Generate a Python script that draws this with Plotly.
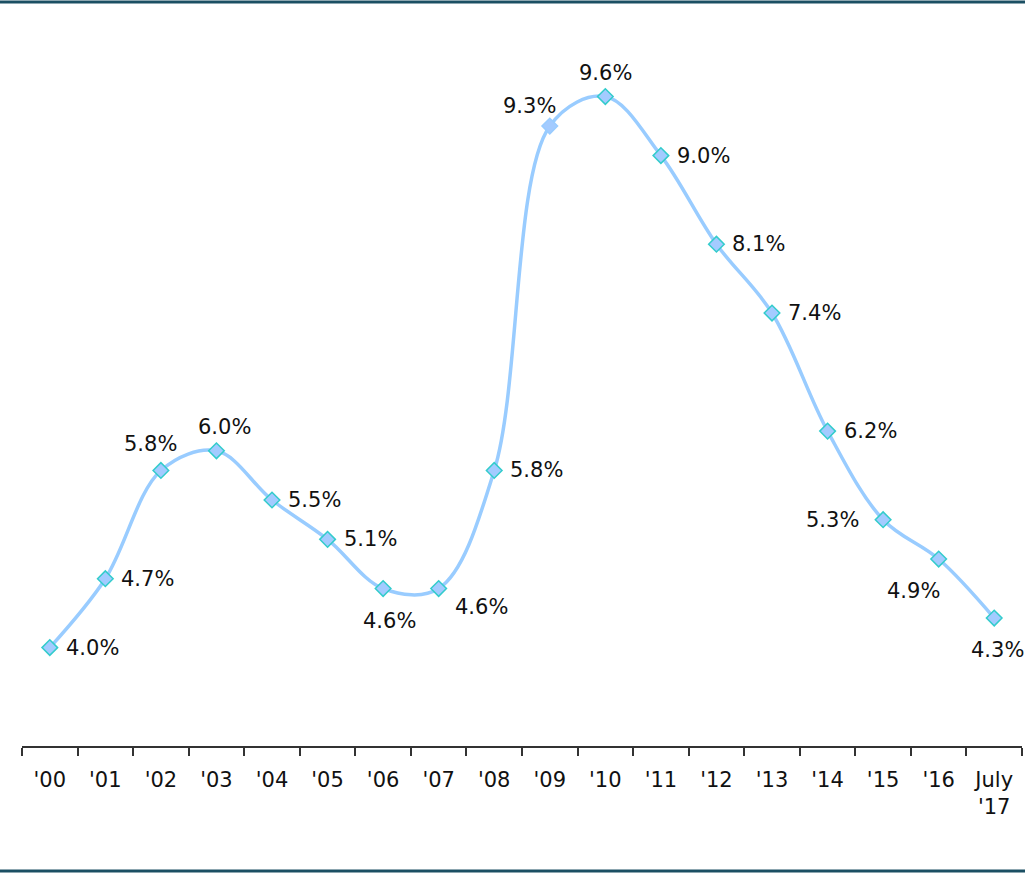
import plotly.graph_objects as go

years = ["'00", "'01", "'02", "'03", "'04", "'05", "'06", "'07", "'08", "'09",
         "'10", "'11", "'12", "'13", "'14", "'15", "'16", "July<br>'17"]
rate = [4.0, 4.7, 5.8, 6.0, 5.5, 5.1, 4.6, 4.6, 5.8, 9.3,
        9.6, 9.0, 8.1, 7.4, 6.2, 5.3, 4.9, 4.3]

# label placement per point: (xanchor, yanchor, xshift, yshift)
label_pos = [
    ("left", "middle", 14, 0), ("left", "middle", 14, 0), ("right", "bottom", 18, 12),
    ("center", "bottom", 8, 10), ("left", "middle", 14, 0), ("left", "middle", 14, 0),
    ("center", "top", 6, -18), ("left", "top", 14, -4), ("left", "middle", 14, 0),
    ("right", "bottom", 8, 6), ("center", "bottom", 0, 10), ("left", "middle", 14, 0),
    ("left", "middle", 14, 0), ("left", "middle", 14, 0), ("left", "middle", 14, 0),
    ("right", "middle", -22, 0), ("right", "top", 3, -18), ("center", "top", 3, -18),
]

font = "DejaVu Sans, Verdana, sans-serif"
line_color = "#99ccff"

border_colors = ["#33cccc"] * len(rate)
border_colors[9] = line_color

fig = go.Figure()
fig.add_trace(go.Scatter(
    x=years, y=rate, mode="lines+markers",
    line=dict(color=line_color, width=3.5, shape="spline", smoothing=1.0),
    marker=dict(symbol="diamond", size=12, color="#a3cbff",
                line=dict(color=border_colors, width=1.5)),
    hoverinfo="skip",
))

for x, v, (xa, ya, dx, dy) in zip(years, rate, label_pos):
    fig.add_annotation(x=x, y=v, text=f"{v:.1f}%", showarrow=False,
                       xanchor=xa, yanchor=ya, xshift=dx, yshift=dy,
                       font=dict(family=font, size=21, color="#111111"))

# frame rules above and below the chart
for yy in (1.0082, -0.1694):
    fig.add_shape(type="line", xref="paper", yref="paper",
                  x0=-0.03, x1=1.01, y0=yy, y1=yy,
                  line=dict(color="#1b4f63", width=3))

fig.update_layout(
    width=1025, height=874,
    margin=dict(l=22, r=3, t=8, b=128),
    plot_bgcolor="white", paper_bgcolor="white",
    showlegend=False,
    xaxis=dict(type="category", range=[-0.5, 17.5], showgrid=False,
               showline=True, linecolor="#333333", linewidth=1.5,
               ticks="outside", tickson="boundaries", ticklen=8,
               tickcolor="#333333", tickwidth=1.5, ticklabelstandoff=14,
               tickfont=dict(family=font, size=21, color="#111111")),
    yaxis=dict(range=[3.0, 10.5], visible=False, showgrid=False, zeroline=False),
)

fig.write_html("out.html")
